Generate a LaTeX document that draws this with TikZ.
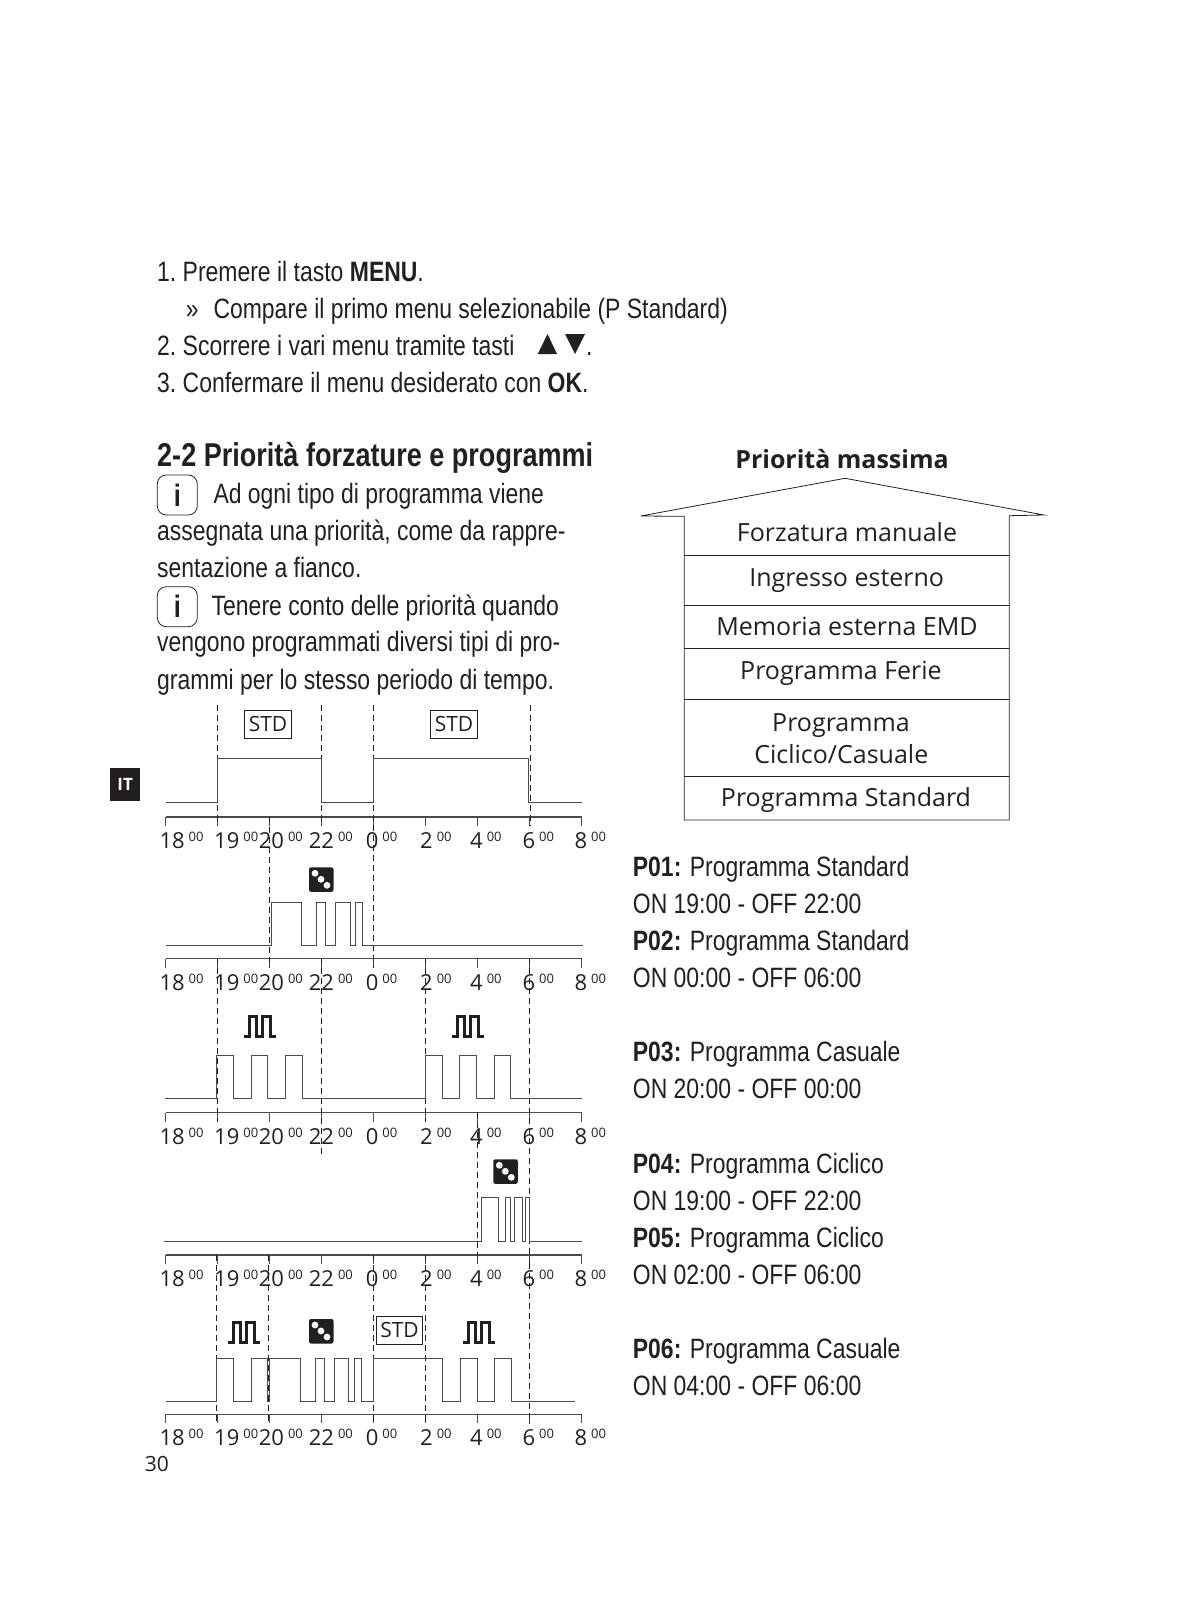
\documentclass[tikz,border=0pt]{standalone}
\usepackage{fontspec}
\usepackage{xcolor}
\usetikzlibrary{arrows.meta,positioning,calc}
\newfontfamily\bodyfont[FakeStretch=0.82]{Liberation Sans}
\newfontfamily\labelfont{Open Sans}
\definecolor{ink}{HTML}{231F20}
\definecolor{wire}{HTML}{4A4A4A}
\newcommand{\bodysize}{\fontsize{28}{34}\selectfont}
\newcommand{\labsize}{\fontsize{25}{30}\selectfont}
\newcommand{\ticktext}[1]{#1\kern4pt\raisebox{7pt}{\fontsize{13}{13}\selectfont 00}}
\tikzset{
  bodytext/.style={anchor=base west,inner sep=0pt,text=ink,font=\bodyfont\bodysize},
  prilabel/.style={anchor=base,inner sep=0pt,text=ink,font=\labelfont\labsize},
  ticklabel/.style={anchor=base west,inner sep=0pt,text=ink,font=\labelfont\fontsize{22}{26}\selectfont},
  stdbox/.style={draw=ink,line width=0.8pt,minimum width=47pt,minimum height=28pt,
                 inner sep=0pt,text=ink,font=\labelfont\fontsize{21}{25}\selectfont},
  infobox/.style={draw=ink,line width=0.8pt,rounded corners=9pt,minimum width=40pt,
                  minimum height=40pt,inner sep=0pt,text=ink,font=\bodyfont\bfseries\fontsize{31}{31}\selectfont},
  signal/.style={draw=wire,line width=1pt},
  axisline/.style={draw=wire,line width=1.2pt},
  guide/.style={draw=ink,line width=0.7pt,dash pattern=on 6pt off 4pt},
  dicebox/.pic={
    \fill[ink,rounded corners=2pt] (0,0) rectangle (24.5,24.5);
    \foreach \p in {6,12,18} \fill[white] (\p,\p) circle (3.4);
  },
  pulsebox/.pic={
    \draw[ink,line width=3pt] (0,20.7) -| (5,0) -| (12.7,20.7) -| (18.3,0) -| (26.7,20.7) -- (32,20.7);
  }
}
\begin{document}
\begin{tikzpicture}[x=1pt,y=-1pt]
  \useasboundingbox (0,0) rectangle (1198,1600);
  % instructions
  \node[bodytext] (st1) at (157,281) {1.\ Premere il tasto \textbf{MENU}.};
  \node[bodytext] (st1b) at (185.7,318) {»};
  \node[bodytext] (st1c) at (213.3,318) {Compare il primo menu selezionabile (P Standard)};
  \node[bodytext] (st2) at (157,355) {2.\ Scorrere i vari menu tramite tasti};
  \fill[ink] (537.8,354) -- (547.5,334) -- (557,354) -- cycle;
  \fill[ink] (565,334) -- (585,334) -- (575,354) -- cycle;
  \node[bodytext] (st2b) at (586,355) {.};
  \node[bodytext] (st3) at (157,392) {3.\ Confermare il menu desiderato con \textbf{OK}.};
  % left column
  \node[bodytext,font=\bodyfont\bfseries\fontsize{33}{36}\selectfont] (title) at (157,466) {2-2 Priorità forzature e programmi};
  \node[infobox] (info1) at (177.3,495) {i};
  \node[bodytext] (tx1) at (213.3,503.3) {Ad ogni tipo di programma viene};
  \node[bodytext] (tx2) at (157,540) {assegnata una priorità, come da rappre-};
  \node[bodytext] (tx3) at (157,577.3) {sentazione a fianco.};
  \node[infobox] (info2) at (177.3,606.7) {i};
  \node[bodytext] (tx4) at (211.5,615) {Tenere conto delle priorità quando};
  \node[bodytext] (tx5) at (157,651.7) {vengono programmati diversi tipi di pro-};
  \node[bodytext] (tx6) at (157,689.3) {grammi per lo stesso periodo di tempo.};
  \node[fill=ink,text=white,minimum width=30pt,minimum height=33pt,inner sep=0pt,
        font=\labelfont\bfseries\fontsize{17}{17}\selectfont] (lang) at (125.2,784.2) {IT};
  % axes with their hour labels
  \foreach \r/\ya/\yb in {1/817/848,2/958.7/990,3/1112.7/1144,4/1255/1286,5/1414.3/1445} {
    \draw[axisline] (165.7,\ya) -- (582,\ya);
    \foreach \i in {0,...,8} {
      \draw[axisline,line width=0.9pt] ({165.7+52*\i},\ya) -- ++(0,9);
    }
    \foreach \h/\x in {18/159.3,19/214,20/258.7,22/308.7,0/365.7,2/420,4/470,6/522.3,8/574.3} {
      \node[ticklabel] (lab\r-\h) at (\x,\yb) {\ticktext{\h}};
    }
  }
  % guide lines between the panels
  \foreach \x/\yt/\ye in {217/705/826,321.3/705/826,373.7/705/968,530/705/826,269/817/968,
      217/958/1122,321/958/1155,425.3/958/1122,529.7/958/1263,477.3/1112/1263,
      216.7/1255/1424,268.7/1255/1424,373.7/1255/1424,425.7/1255/1424,529.7/1263/1424} {
    \draw[guide] (\x,\yt) -- (\x,\ye);
  }
  % panel 1
  \draw[signal] (165.7,802.3) -| (217.5,758.3) -| (321,802.3) -| (373.7,758.3) -| (528,802.3) -- (531,802.3) -- (582,802.3);
  \node[stdbox] (std1) at (268,724.3) {STD};
  \node[stdbox] (std2) at (454,724.3) {STD};
  % panel 2
  \draw[signal] (165.7,945.3) -| (271.3,902.3) -| (301.3,945.3) -| (316.3,902.3) -| (325.3,945.3)
     -| (335.3,902.3) -| (350.3,945.3) -| (355.7,902.3) -| (362.3,945.3) -- (583,945.3);
  \pic at (309,867.3) {dicebox};
  % panel 3
  \draw[signal] (165,1098.3) -| (216.3,1055) -| (233.7,1098.3) -| (251.7,1055) -| (267.7,1098.3)
     -| (285.7,1055) -| (302.3,1098.3) -| (425.3,1055) -| (442.3,1098.3) -| (459.7,1055)
     -| (476.7,1098.3) -| (494.7,1055) -| (510.7,1098.3) -- (581.7,1098.3);
  \pic at (244,1016) {pulsebox};
  \pic at (452,1016) {pulsebox};
  % panel 4
  \draw[signal] (164.3,1241.3) -| (481.3,1197.3) -| (498.7,1241.3) -| (505.3,1197.3) -| (510.3,1241.3)
     -| (514.3,1197.3) -| (522.3,1241.3) -| (525.7,1197.3) -| (529,1241.3) -- (582.3,1241.3);
  \pic at (493.3,1159.3) {dicebox};
  % panel 5
  \draw[signal] (165.7,1401.3) -| (216.3,1358) -| (233.7,1401.3) -| (251.7,1358) -| (267.7,1401.3)
     -| (269.7,1358) -| (300.7,1401.3) -| (315.3,1358) -| (324.3,1401.3) -| (334.3,1358)
     -| (348.7,1401.3) -| (354.3,1358) -| (361.7,1401.3) -| (373.3,1358) -| (442.3,1401.3)
     -| (460.3,1358) -| (477.7,1401.3) -| (494.7,1358) -| (511.3,1401.3) -- (575.3,1401.3);
  \pic at (228,1322) {pulsebox};
  \pic at (309,1319) {dicebox};
  \node[stdbox,minimum width=46.4pt] (std3) at (399.5,1330.3) {STD};
  \pic at (463,1322) {pulsebox};
  \node[anchor=base west,inner sep=0pt,text=ink,font=\labelfont\fontsize{21}{25}\selectfont] (page) at (144.7,1471.7) {30};
  % priority house
  \node[prilabel,font=\labelfont\bfseries\labsize] (topl) at (842,468.3) {Priorità massima};
  \draw[ink,line width=0.8pt] (684.3,516.3) -- (640.7,516) -- (845,478.3) -- (1044,515) -- (1009.3,515.7)
     -- (1009.3,820) -- (684.3,820) -- cycle;
  \foreach \y in {555.7,605,648.3,699,776.7} {
    \draw[ink,line width=0.8pt] (684.3,\y) -- (1009.3,\y);
  }
  \node[prilabel] (pri1) at (847,541.7) {Forzatura manuale};
  \node[prilabel] (pri2) at (846.7,586.7) {Ingresso esterno};
  \node[prilabel] (pri3) at (847,635) {Memoria esterna EMD};
  \node[prilabel] (pri4) at (841,679.3) {Programma Ferie};
  \node[prilabel] (pri5) at (841,731.7) {Programma};
  \node[prilabel] (pri6) at (841.3,763.3) {Ciclico/Casuale};
  \node[prilabel] (pri7) at (846,806.7) {Programma Standard};
  % program list
  \foreach \n/\y/\t in {1/876.5/\textbf{P01:} Programma Standard,2/913.5/ON 19:00 - OFF 22:00,
      3/950.5/\textbf{P02:} Programma Standard,4/987.5/ON 00:00 - OFF 06:00,
      5/1061.5/\textbf{P03:} Programma Casuale,6/1098.5/ON 20:00 - OFF 00:00,
      7/1173/\textbf{P04:} Programma Ciclico,8/1210/ON 19:00 - OFF 22:00,
      9/1247.5/\textbf{P05:} Programma Ciclico,10/1284.5/ON 02:00 - OFF 06:00,
      11/1358.5/\textbf{P06:} Programma Casuale,12/1395.5/ON 04:00 - OFF 06:00} {
    \node[bodytext] (prog\n) at (632.7,\y) {\t};
  }
\end{tikzpicture}
\end{document}
